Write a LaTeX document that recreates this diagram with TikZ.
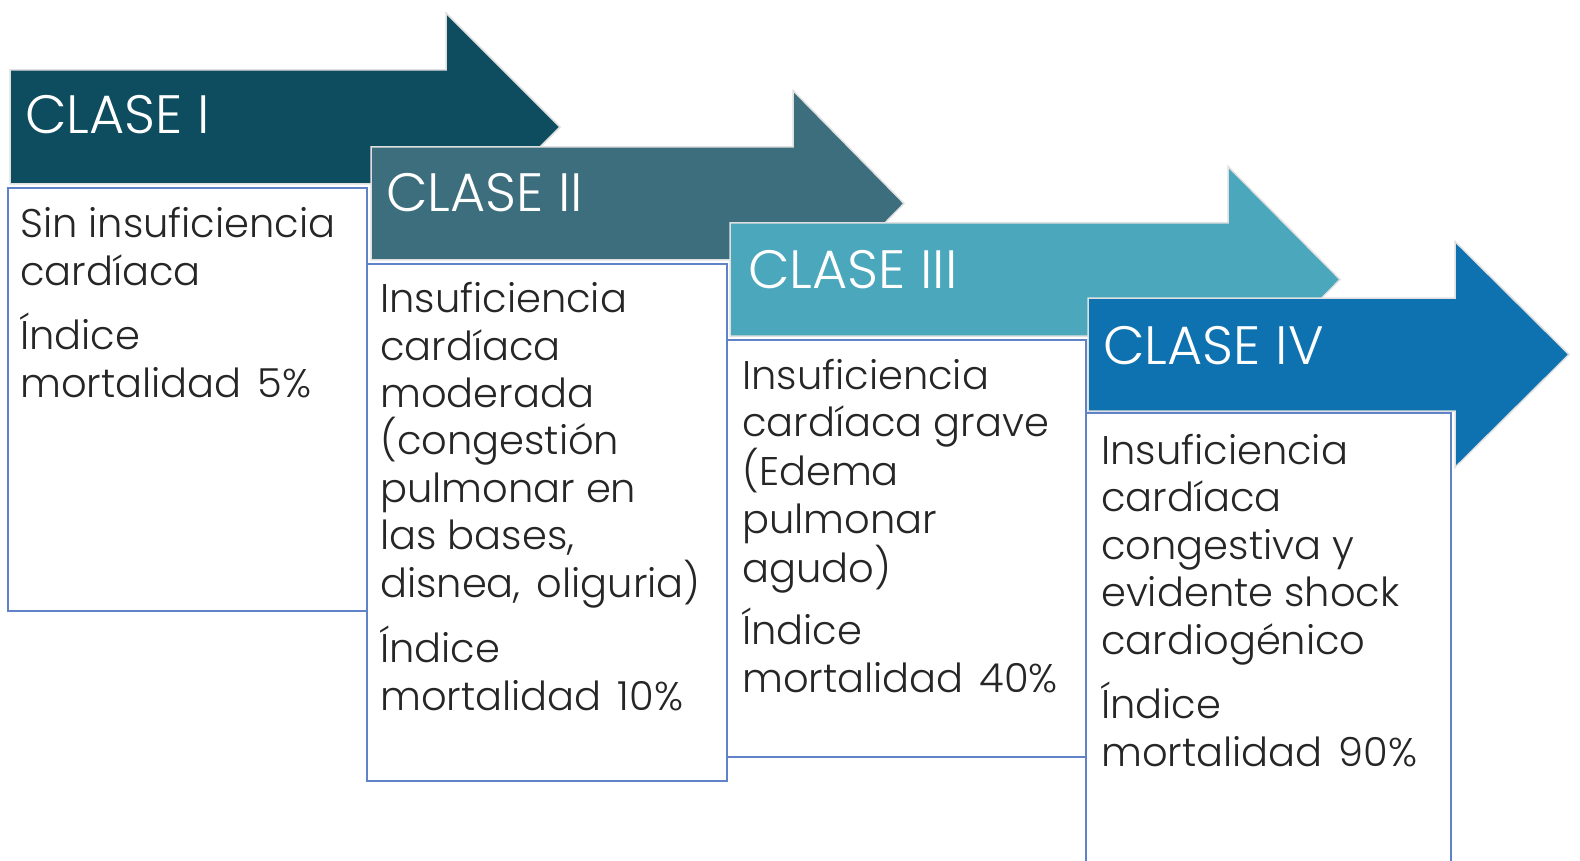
\documentclass[tikz,border=0pt]{standalone}
\usepackage{fontspec}
\setmainfont{Poppins}[UprightFont={* Light}]
\definecolor{cA}{RGB}{13,77,95}
\definecolor{cB}{RGB}{61,110,126}
\definecolor{cC}{RGB}{75,167,188}
\definecolor{cD}{RGB}{14,114,176}
\definecolor{boxline}{RGB}{95,130,200}
\newcommand{\wsp}{\hspace{16pt}}
\tikzset{
  arrowshape/.style={draw=black!12, line width=1.5pt, line join=miter},
  infobox/.style={draw=boxline, fill=white, line width=1.5pt},
  head/.style={anchor=base west, text=white, font=\fontsize{54}{60}\selectfont, inner sep=0pt},
  body/.style={anchor=base west, text=black!85, font=\fontsize{40}{47.4}\selectfont, inner sep=0pt, align=left},
}
\newcommand{\classarrow}[6]{% color, x0, top, bottom, headbase, tip
  \fill[#1] (#2,#3) -- (#5,#3) -- (#5,{#3-((#4-#3)/2)}) -- (#6,{(#3+#4)/2}) -- (#5,{#4+((#4-#3)/2)}) -- (#5,#4) -- (#2,#4) -- cycle;
  \draw[arrowshape] (#2,#3) -- (#5,#3) -- (#5,{#3-((#4-#3)/2)}) -- (#6,{(#3+#4)/2}) -- (#5,{#4+((#4-#3)/2)}) -- (#5,#4) -- (#2,#4) -- cycle;
}
\begin{document}
\begin{tikzpicture}[x=1pt,y=-1pt]
\useasboundingbox (0,0) rectangle (1580,861);
% Arrow 1 + box 1
\classarrow{cA}{10}{70}{184}{446}{560}
\node[head] (h1) at (25,134) {CLASE I};
\draw[infobox] (8,188) rectangle (367,611);
\node[body] (t1a) at (20,285) {Sin insuficiencia\\cardíaca};
\node[body] (t1b) at (20,397) {Índice\\mortalidad\wsp5\%};
% Arrow 2 + box 2
\classarrow{cB}{371}{147}{260}{793}{904}
\node[head] (h2) at (386,212) {CLASE II};
\draw[infobox] (367,264) rectangle (727,781);
\node[body] (t2a) at (380,597) {Insuficiencia\\cardíaca\\moderada\\(congestión\\pulmonar en\\las bases,\\disnea,\hspace{16pt}oliguria)};
\node[body] (t2b) at (380,710) {Índice\\mortalidad\wsp10\%};
% Arrow 3 + box 3
\classarrow{cC}{730}{223}{336}{1228}{1340}
\node[head] (h3) at (748,288) {CLASE III};
\draw[infobox] (727,340) rectangle (1086,757);
\node[body] (t3a) at (742,582) {Insuficiencia\\cardíaca grave\\(Edema\\pulmonar\\agudo)};
\node[body] (t3b) at (742,692) {Índice\\mortalidad\wsp40\%};
% Arrow 4 + box 4
\classarrow{cD}{1088}{298}{411}{1455}{1569}
\node[head] (h4) at (1103,364) {CLASE IV};
\draw[infobox] (1086,900) -- (1086,413) -- (1451,413) -- (1451,900);
\fill[white] (1087.5,414.5) rectangle (1449.5,861);
\node[body] (t4a) at (1101,654) {Insuficiencia\\cardíaca\\congestiva y\\evidente shock\\cardiogénico};
\node[body] (t4b) at (1101,766) {Índice\\mortalidad\wsp90\%};
\end{tikzpicture}
\end{document}
